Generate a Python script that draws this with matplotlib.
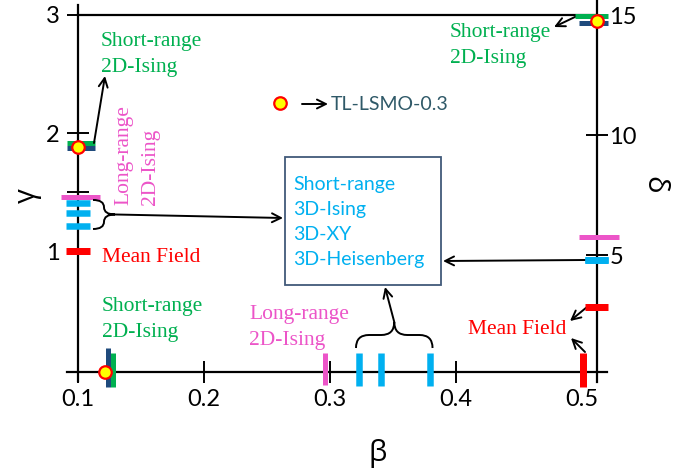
import matplotlib
matplotlib.use('Agg')
import matplotlib.pyplot as plt
from matplotlib.path import Path
from matplotlib.patches import PathPatch, Rectangle
from matplotlib.transforms import IdentityTransform
import numpy as np

# ---------------- data ----------------
models = ['Short-range 2D-Ising (a)', 'Short-range 2D-Ising (b)', 'Long-range 2D-Ising',
          '3D-Ising', '3D-XY', '3D-Heisenberg', 'Mean Field']
beta_vals = [0.1278, 0.1236, 0.296, 0.323, 0.3405, 0.379, 0.5008]
gamma_vals = [1.917, 1.875, 1.46, 1.215, 1.325, 1.41, 1.0]
delta_vals = [14.96, 14.67, 5.75, 4.79, 4.79, 4.79, 2.83]
colors = ['#00B050', '#1F4A7C', '#EC55C8', '#00B0F0', '#00B0F0', '#00B0F0', '#FF0000']

sample_name = 'TL-LSMO-0.3'
sample_beta = 0.1214
sample_gamma = 1.886
sample_delta = 14.76

beta_ticks = [0.1, 0.2, 0.3, 0.4, 0.5]
beta_ticklabels = ['0.1', '0.2', '0.3', '0.4', '0.5']
gamma_ticks = [1, 1.5, 2, 3]
gamma_ticklabels = ['1', '', '2', '3']
delta_ticks = [5, 10, 15]
delta_ticklabels = ['5', '10', '15']

# ---------------- style (pixel offsets of the bars) ----------------
left_ext = [(-11, 17), (-11, 17), (-17, 22), (-12, 12), (-12, 12), (-12, 12), (-12, 12)]
bottom_ext = [(15, 19), (15, 24), (13, 19), (14, 19), (14, 19), (14, 19), (15, 19)]
right_ext = [(-22, 11), (-18, 11), (-18, 22), (-12, 11), (-12, 11), (-12, 11), (-12, 11)]
thick_px = [5, 5, 5, 6.5, 6.5, 6.5, 7]

plt.rcParams['font.family'] = ['Lato', 'DejaVu Sans']

FW, FH = 689, 474
fig = plt.figure(figsize=(FW / 100, FH / 100), dpi=100)
AX_L, AX_R, AX_T, AX_B = 78, 597, 15, 372
W, H = AX_R - AX_L, AX_B - AX_T
ax = fig.add_axes([AX_L / FW, (FH - AX_B) / FH, W / FW, H / FH])
ax.set_xlim(0.1, 0.1 + W / 1260)
ax.set_ylim(-0.02, 3.0)
ax.patch.set_alpha(0)
ax2 = ax.twinx()
ax2.set_ylim(0.125, 15)

for a in (ax, ax2):
    for s in a.spines.values():
        s.set_visible(False)


def A(x, y):
    """reference pixel -> axes fraction"""
    return ((x - AX_L) / W, (AX_B - y) / H)


# axis lines (slightly extended past the corners)
lk = dict(color='black', lw=1.6, transform=ax.transAxes, clip_on=False, zorder=2)
ax.plot([0, 0], [A(0, 381)[1], A(0, 5)[1]], **lk)
ax.plot([A(67, 0)[0], A(607, 0)[0]], [0, 0], **lk)
ax.plot([1, 1], [A(0, 382)[1], A(0, 0)[1]], **lk)
ax.plot([0, 1], [1, 1], **lk)

tk = dict(direction='inout', length=16, width=1.4, color='black', labelsize=17)
ax.set_xticks(beta_ticks)
ax.set_xticklabels(beta_ticklabels)
ax.set_yticks(gamma_ticks)
ax.set_yticklabels(gamma_ticklabels)
ax.tick_params(axis='x', pad=4, **tk)
ax.tick_params(axis='y', pad=5, **tk)
ax2.set_yticks(delta_ticks)
ax2.set_yticklabels(delta_ticklabels)
ax2.tick_params(axis='y', pad=1, **tk)

# ---------------- bars ----------------
for i in range(len(models)):
    lw = thick_px[i] * 0.72
    c = colors[i]
    x0, x1 = left_ext[i]
    ax.plot([x0 / W, x1 / W], [gamma_vals[i]] * 2, color=c, lw=lw, solid_capstyle='butt',
            transform=ax.get_yaxis_transform(), clip_on=False, zorder=3)
    dn, up = bottom_ext[i]
    ax.plot([beta_vals[i]] * 2, [-dn / H, up / H], color=c, lw=lw, solid_capstyle='butt',
            transform=ax.get_xaxis_transform(), clip_on=False, zorder=3)
    r0, r1 = right_ext[i]
    ax2.plot([1 + r0 / W, 1 + r1 / W], [delta_vals[i]] * 2, color=c, lw=lw, solid_capstyle='butt',
             transform=ax2.get_yaxis_transform(), clip_on=False, zorder=3)

mk = dict(marker='o', ms=9, mfc='#FFFF00', mec='#FF0000', mew=1.6, ls='none', clip_on=False, zorder=6)
ax.plot([sample_beta], [0], transform=ax.get_xaxis_transform(), **mk)
ax.plot([0], [sample_gamma], transform=ax.get_yaxis_transform(), **mk)
ax2.plot([1], [sample_delta], transform=ax2.get_yaxis_transform(), **mk)
ax.plot(*A(280, 103), transform=ax.transAxes, **mk)

# ---------------- texts ----------------
SERIF = 'Liberation Serif'
GREEN, PINK, RED, CYAN = '#00B050', '#EC55C8', '#FF0000', '#00B0F0'


def stext(x, y, s, color, ha='left', **kw):
    ax.text(*A(x, y), s, transform=ax.transAxes, family=SERIF, fontsize=15.5, color=color,
            ha=ha, va='baseline', **kw)


stext(101, 46, 'Short-range', GREEN)
stext(101, 72, '2D-Ising', GREEN)
stext(102, 311, 'Short-range', GREEN)
stext(102, 337, '2D-Ising', GREEN)
stext(450, 37, 'Short-range', GREEN)
stext(450, 63, '2D-Ising', GREEN)
stext(249, 319, 'Long-range', PINK)
stext(249, 345, '2D-Ising', PINK)
stext(102, 262, 'Mean Field', RED)
stext(566, 334, 'Mean Field', RED, ha='right')
stext(128, 205, 'Long-range', PINK, rotation=90, rotation_mode='anchor')
stext(155, 205, '2D-Ising', PINK, rotation=90, rotation_mode='anchor')

box_lines = ['Short-range', '3D-Ising', '3D-XY', '3D-Heisenberg']
for k, s in enumerate(box_lines):
    ax.text(*A(293, 190 + 25 * k), s, transform=ax.transAxes, fontsize=14, color=CYAN,
            ha='left', va='baseline')
x0b, y0b = A(285, 285)
x1b, y1b = A(441, 157)
ax.add_patch(Rectangle((x0b, y0b), x1b - x0b, y1b - y0b, transform=ax.transAxes, fill=False,
                       ec='#41597A', lw=1.3, zorder=4))

ax.text(*A(331, 104), sample_name, transform=ax.transAxes, fontsize=14, color='#2F5968',
        ha='left', va='center')

# axis labels
GK = ['Open Sans', 'DejaVu Sans']
fig.text(378 / FW, 1 - 454 / FH, 'β', family=GK, fontsize=21, ha='center', va='center')
fig.text(27 / FW, 1 - 196 / FH, 'γ', family=GK, fontsize=21, ha='center', va='center', rotation=90)
fig.text(654 / FW, 1 - 185 / FH, 'δ', family=GK, fontsize=21, ha='center', va='center', rotation=270)

# ---------------- arrows ----------------
ap = dict(arrowstyle='->', lw=1.4, color='black', shrinkA=0, shrinkB=0, mutation_scale=16)


def arrow(p_from, p_to, coords_from='axes fraction'):
    ax.annotate('', xy=A(*p_to), xycoords='axes fraction', xytext=p_from,
                textcoords=coords_from, arrowprops=ap, annotation_clip=False)


arrow(A(94, 143), (105, 76))
arrow(A(577, 16), (554, 27))
arrow(A(587, 307), (570, 321))
arrow(A(585, 352), (571, 338))
arrow(A(302, 104), (328, 104))
arrow(A(586, 260), (443, 261))


# ---------------- braces ----------------
def brace(p0, p1, depth, normal):
    p0 = np.asarray(p0, float)
    p1 = np.asarray(p1, float)
    L = np.linalg.norm(p1 - p0)
    t = (p1 - p0) / L
    n = np.asarray(normal, float)
    d = depth
    r = min(L / 4, d / 2)
    local = [(0, 0), (0, d / 2), (r, d / 2), (L / 2 - r, d / 2), (L / 2, d / 2), (L / 2, d),
             (L / 2, d / 2), (L / 2 + r, d / 2), (L - r, d / 2), (L, d / 2), (L, 0)]
    codes = [Path.MOVETO, Path.CURVE3, Path.CURVE3, Path.LINETO, Path.CURVE3, Path.CURVE3,
             Path.CURVE3, Path.CURVE3, Path.LINETO, Path.CURVE3, Path.CURVE3]
    verts = [p0 + u * t + v * n for u, v in local]
    fig.add_artist(PathPatch(Path(verts, codes), fill=False, lw=1.4, ec='black',
                             transform=IdentityTransform(), clip_on=False))
    return tuple(p0 + (L / 2) * t + d * n)


cy = [3, 4, 5]
gy = [ax.transData.transform((0.1, gamma_vals[i]))[1] for i in cy]
left_x = ax.transAxes.transform((0, 0))[0] + 15
tip1 = brace((left_x, min(gy) - 3), (left_x, max(gy) + 3), 22, (1, 0))
bx = [ax.transData.transform((beta_vals[i], 0))[0] for i in cy]
base_y = ax.transAxes.transform((0, 0))[1] + 24
tip2 = brace((min(bx) - 3, base_y), (max(bx) + 3, base_y), 26, (0, 1))

arrow(tip1, (283, 218), 'figure pixels')
arrow(tip2, (385, 287), 'figure pixels')

fig.savefig('out.png', dpi=100)
